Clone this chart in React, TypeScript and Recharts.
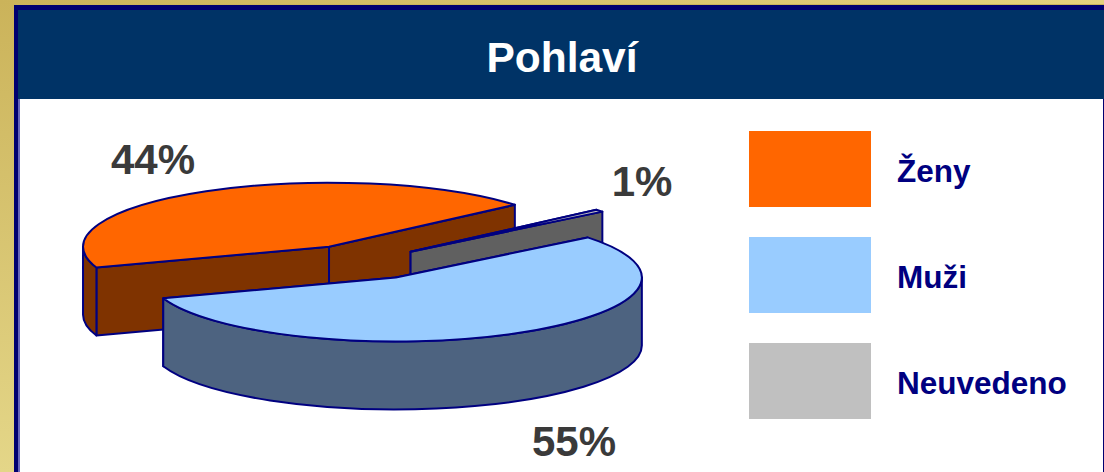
import { PieChart, Pie, Legend } from 'recharts'

const sliceNames = ['Ženy', 'Neuvedeno', 'Muži']
const sliceValues = [43.9, 0.6, 55.49]
const legendNames = ['Ženy', 'Muži', 'Neuvedeno']

const topColors: Record<string, string> = { 'Ženy': '#FF6600', 'Muži': '#99CCFF', 'Neuvedeno': '#C0C0C0' }
const wallColors: Record<string, string> = { 'Ženy': '#7F3300', 'Muži': '#4D6380', 'Neuvedeno': '#606060' }
const explode: Record<string, number> = { 'Ženy': 68, 'Muži': 68, 'Neuvedeno': 62 }
const labelOffsets: Record<string, [number, number]> = {
  'Ženy': [-210, -88],
  'Muži': [211, 194],
  'Neuvedeno': [279, -66],
}

const NAVY = '#000080'
const FRAME = '#000070'
const SQUASH = 0.26
const DEPTH = 68
const RAD = Math.PI / 180
const FONT = '"Liberation Sans", Arial, sans-serif'

const pieData = sliceNames.map((name, i) => ({ name, value: sliceValues[i], fill: topColors[name] }))

// draws one sector of the pie as an exploded, tilted slab
function Slab(props: any) {
  const { cx, cy, outerRadius: r, startAngle, endAngle, name, payload } = props
  const key = name ?? payload?.name
  const hi = Math.max(startAngle, endAngle)
  const lo = Math.min(startAngle, endAngle)
  const mid = ((hi + lo) / 2) * RAD
  const ox = cx + explode[key] * Math.cos(mid)
  const oy = cy - explode[key] * SQUASH * Math.sin(mid)
  const ry = r * SQUASH
  const px = (a: number) => ox + r * Math.cos(a * RAD)
  const py = (a: number) => oy - ry * Math.sin(a * RAD)

  const arc = (from: number, to: number, dy: number, sweep: number) =>
    `A${r} ${ry} 0 ${Math.abs(from - to) > 180 ? 1 : 0} ${sweep} ${px(to)} ${py(to) + dy}`

  const face = (a: number) =>
    `M${ox} ${oy}L${px(a)} ${py(a)}L${px(a)} ${py(a) + DEPTH}L${ox} ${oy + DEPTH}Z`

  // the rim only shows on the front half of the ellipse
  const rims: string[] = []
  for (const [a, b] of [[180, 360], [-180, 0], [-540, -360]]) {
    const from = Math.min(hi, b)
    const to = Math.max(lo, a)
    if (from > to) {
      rims.push(`M${px(from)} ${py(from)}${arc(from, to, 0, 1)}L${px(to)} ${py(to) + DEPTH}${arc(to, from, DEPTH, 0)}Z`)
    }
  }

  const common = { stroke: NAVY, strokeWidth: 2, strokeLinejoin: 'round' as const }
  return (
    <g>
      <path d={face(hi)} fill={wallColors[key]} {...common} />
      <path d={face(lo)} fill={wallColors[key]} {...common} />
      {rims.map((d) => <path key={d} d={d} fill={wallColors[key]} {...common} />)}
      <path d={`M${ox} ${oy}L${px(hi)} ${py(hi)}${arc(hi, lo, 0, 1)}Z`} fill={topColors[key]} {...common} />
    </g>
  )
}

function SliceLabel(props: any) {
  const { cx, cy, name, value } = props
  const [dx, dy] = labelOffsets[name]
  return (
    <text x={cx + dx} y={cy + dy} textAnchor="middle" fontFamily={FONT} fontWeight={700} fontSize={42} fill="#3A3A3A">
      {Math.round(value)}%
    </text>
  )
}

function LegendBox() {
  return (
    <div>
      {legendNames.map((name) => (
        <div key={name} style={{ display: 'flex', alignItems: 'center', height: 76, marginBottom: 30 }}>
          <div style={{ width: 122, height: 76, background: topColors[name] }} />
          <span style={{ marginLeft: 26, position: 'relative', top: 2, font: `700 31.5px ${FONT}`, color: NAVY, whiteSpace: 'nowrap' }}>{name}</span>
        </div>
      ))}
    </div>
  )
}

export default function App() {
  return (
    <div style={{
      position: 'absolute', left: 0, top: 0, width: 1104, height: 472, overflow: 'hidden',
      background: 'linear-gradient(180deg, #CBB35A 0%, #E4D688 100%)',
    }}>
      <div style={{ position: 'absolute', left: 0, top: 0, width: 1104, height: 4, background: 'linear-gradient(90deg, #CBB35A, #E6D27E)' }} />
      <div style={{ position: 'absolute', left: 14, top: 5, right: 0, bottom: 0, background: FRAME }} />
      <div style={{ position: 'absolute', left: 18, top: 10, right: 0, height: 89, background: '#003366' }}>
        <div style={{ textAlign: 'center', font: `700 42.5px ${FONT}`, color: '#FFFFFF', lineHeight: '96px', paddingLeft: 2 }}>
          Pohlaví
        </div>
      </div>
      <div style={{ position: 'absolute', left: 18, top: 99, width: 2, bottom: 0, background: '#6666BB' }} />
      <div style={{ position: 'absolute', left: 20, top: 99, right: 1, bottom: 0, background: '#FFFFFF' }} />
      <div style={{ position: 'absolute', left: 0, top: 0 }}>
        <PieChart width={1104} height={472} margin={{ top: 0, right: 0, bottom: 0, left: 0 }}>
          <Pie
            data={pieData}
            dataKey="value"
            nameKey="name"
            cx={363}
            cy={262}
            outerRadius={246}
            startAngle={199}
            endAngle={-161}
            paddingAngle={0}
            shape={Slab}
            label={SliceLabel}
            labelLine={false}
            isAnimationActive={false}
          />
          <Legend
            layout="vertical"
            content={<LegendBox />}
            wrapperStyle={{ position: 'absolute', left: 749, top: 131, width: 340, bottom: 'auto', right: 'auto' }}
          />
        </PieChart>
      </div>
    </div>
  )
}
